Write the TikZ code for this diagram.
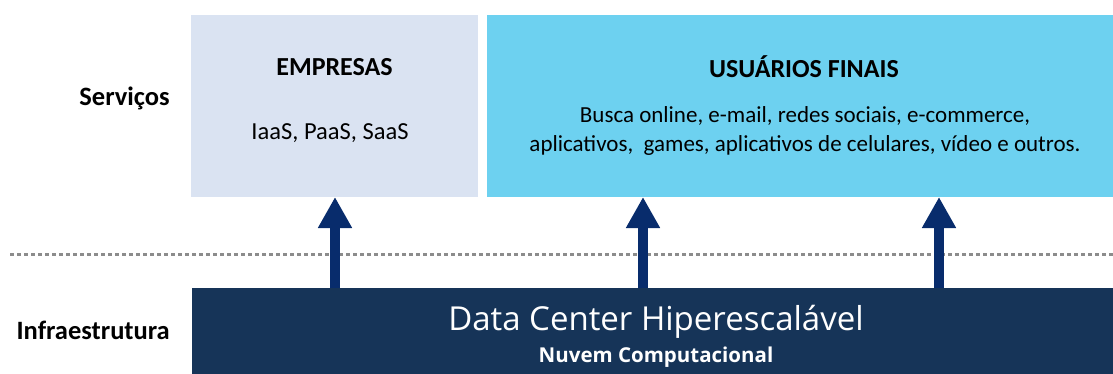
\documentclass[tikz,border=0pt]{standalone}
\usepackage{fontspec}
\setmainfont{Carlito}
\newfontfamily\segoe{Open Sans}
\usetikzlibrary{arrows.meta}
\definecolor{leftbox}{HTML}{DAE3F2}
\definecolor{rightbox}{HTML}{6DD1F0}
\definecolor{infra}{HTML}{163458}
\definecolor{arrowc}{HTML}{082C6C}
\definecolor{dotc}{HTML}{8C8C8C}
\tikzset{
  box/.style={inner sep=0pt, outer sep=0pt, draw=none},
  title/.style={font=\fontsize{26}{30}\selectfont\bfseries, text=black, inner sep=0pt},
  body/.style={font=\fontsize{23}{29}\selectfont, text=black, inner sep=0pt, align=center},
  sidelabel/.style={font=\fontsize{26.5}{30}\selectfont\bfseries, text=black, inner sep=0pt, anchor=east},
  uparrow/.style={arrowc, line width=10pt, -{Triangle[width=32pt,length=31pt]}},
}
\begin{document}
\begin{tikzpicture}[x=1pt,y=-1pt]
\useasboundingbox (0,0) rectangle (1113,374);
\node[box, fill=leftbox, minimum width=287pt, minimum height=182pt] (emp) at (334.5,106) {};
\node[box, fill=rightbox, minimum width=626pt, minimum height=182pt] (usu) at (800,106) {};
\node[box, fill=infra, minimum width=921pt, minimum height=87pt] (dc) at (652.5,331.5) {};
\draw[dotc, line width=3pt, dash pattern=on 3.5pt off 3.5pt] (10,254) -- (1113,254);
\node[title] (empt) at (334.5,67) {EMPRESAS};
\node[body, font=\fontsize{24.5}{29}\selectfont] (empb) at (330,133) {IaaS, PaaS, SaaS};
\node[title] (usut) at (804,67) {USUÁRIOS FINAIS};
\node[body] (usub) at (805,131) {Busca online, e-mail, redes sociais, e-commerce,\\aplicativos,\ \ games, aplicativos de celulares, vídeo e outros.};
\node[sidelabel] (serv) at (170,98) {Serviços};
\node[sidelabel] (infl) at (170,330) {Infraestrutura};
\node[font=\segoe\fontsize{33}{37}\selectfont, text=white, inner sep=0pt] (dct) at (656,322) {Data Center Hiperescalável};
\node[font=\segoe\fontsize{20.5}{24}\selectfont\bfseries, text=white, inner sep=0pt] (dcs) at (656,357) {Nuvem Computacional};
\draw[uparrow] (dc.north -| 335,0) -- (emp.south -| 335,0);
\draw[uparrow] (dc.north -| 643,0) -- (usu.south -| 643,0);
\draw[uparrow] (dc.north -| 939,0) -- (usu.south -| 939,0);
\end{tikzpicture}
\end{document}
